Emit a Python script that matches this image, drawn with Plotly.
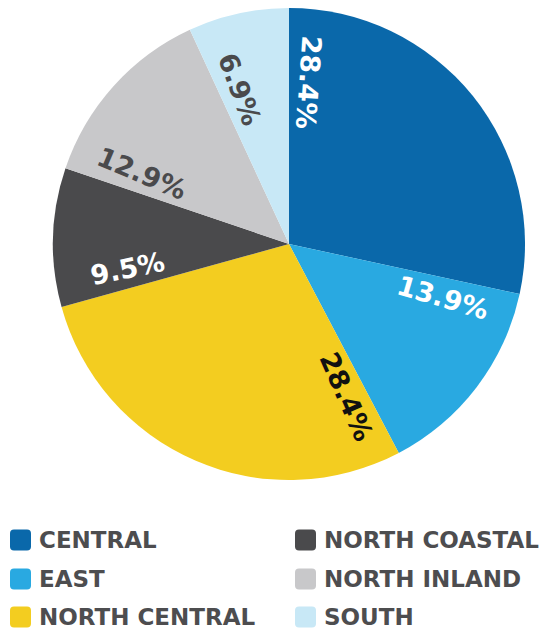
import math
import plotly.graph_objects as go

# Regional share of the total, clockwise from 12 o'clock
regions = ["CENTRAL", "EAST", "NORTH CENTRAL", "NORTH COASTAL", "NORTH INLAND", "SOUTH"]
shares = [28.4, 13.9, 28.4, 9.5, 12.9, 6.9]
colors = ["#0a68aa", "#29a9e1", "#f3cd20", "#4a4a4c", "#c8c8ca", "#c8e8f6"]
label_colors = ["#ffffff", "#ffffff", "#111111", "#ffffff", "#4a4a4c", "#4a4a4c"]

W, H = 551, 632
CX, CY, R = 289, 244, 236          # pie centre / radius in pixels
FONT = "DejaVu Sans"

fig = go.Figure(go.Pie(
    labels=regions,
    values=shares,
    sort=False,
    direction="clockwise",
    rotation=0,
    marker=dict(colors=colors, line=dict(width=0)),
    textinfo="none",
    hoverinfo="label+percent",
    showlegend=False,
    domain=dict(x=[(CX - R) / W, (CX + R) / W], y=[1 - (CY + R) / H, 1 - (CY - R) / H]),
))

# Percentage labels: placed just past the leading edge of each slice, rotated radially
total = sum(shares)
start = 0.0
annotations = []
for name, v, lc in zip(regions, shares, label_colors):
    a0 = start / total * 360.0
    theta = math.radians(a0 + 7.0)
    r = 0.69 * R
    px = CX + r * math.sin(theta)
    py = CY - r * math.cos(theta)
    ang = ((a0 + 4.0 - 90.0 + 85.0) % 180.0) - 85.0
    annotations.append(dict(
        x=px / W, y=1 - py / H, xref="paper", yref="paper",
        text=f"{v:.1f}%", showarrow=False, textangle=ang,
        font=dict(family=FONT, size=27, color=lc, weight="bold"),
        xanchor="center", yanchor="middle",
    ))
    start += v

# Two-column legend with rounded swatches
shapes = []
col_x = [10, 295]
row_y = [540, 579, 617]
sw = 21
rad = 4
for i, (name, c) in enumerate(zip(regions, colors)):
    col, row = divmod(i, 3)
    x0 = col_x[col]
    yc = row_y[row]
    x1 = x0 + sw
    y0, y1 = yc - sw / 2, yc + sw / 2
    fx = lambda v: v / W
    fy = lambda v: 1 - v / H
    path = (
        f"M {fx(x0 + rad)},{fy(y0)} L {fx(x1 - rad)},{fy(y0)} "
        f"Q {fx(x1)},{fy(y0)} {fx(x1)},{fy(y0 + rad)} "
        f"L {fx(x1)},{fy(y1 - rad)} Q {fx(x1)},{fy(y1)} {fx(x1 - rad)},{fy(y1)} "
        f"L {fx(x0 + rad)},{fy(y1)} Q {fx(x0)},{fy(y1)} {fx(x0)},{fy(y1 - rad)} "
        f"L {fx(x0)},{fy(y0 + rad)} Q {fx(x0)},{fy(y0)} {fx(x0 + rad)},{fy(y0)} Z"
    )
    shapes.append(dict(type="path", path=path, xref="paper", yref="paper",
                       fillcolor=c, line=dict(width=0)))
    annotations.append(dict(
        x=(x1 + 6) / W, y=1 - yc / H, xref="paper", yref="paper",
        text=name, showarrow=False, xanchor="left", yanchor="middle",
        font=dict(family=FONT, size=23, color="#4d4d4f", weight="bold"),
    ))

fig.update_layout(
    width=W, height=H,
    margin=dict(l=0, r=0, t=0, b=0),
    paper_bgcolor="white",
    plot_bgcolor="white",
    annotations=annotations,
    shapes=shapes,
)

fig.write_html("out.html")
